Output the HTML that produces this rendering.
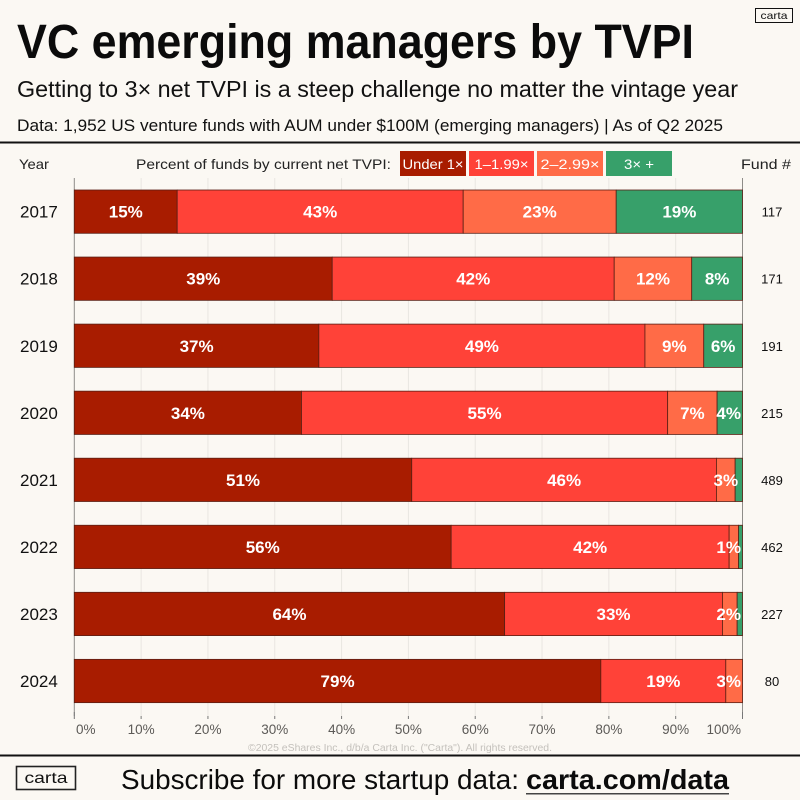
<!DOCTYPE html>
<html lang="en">
<head>
<meta charset="utf-8">
<title>VC emerging managers by TVPI</title>
<style>
html,body{margin:0;padding:0;background:#fbf8f3;}
svg{display:block;font-family:"Liberation Sans",sans-serif;}
</style>
</head>
<body>
<svg id="chart" xmlns="http://www.w3.org/2000/svg" width="800" height="800" viewBox="0 0 800 800">
  <rect x="0" y="0" width="800" height="800" fill="#fbf8f3"/>
  <text x="17" y="58" font-size="48" font-weight="700" fill="#0b0b0b" textLength="677" lengthAdjust="spacingAndGlyphs">VC emerging managers by TVPI</text>
  <text x="17" y="97" font-size="23" fill="#111" textLength="721" lengthAdjust="spacingAndGlyphs">Getting to 3× net TVPI is a steep challenge no matter the vintage year</text>
  <text x="17" y="131" font-size="16.5" fill="#111" textLength="706" lengthAdjust="spacingAndGlyphs">Data: 1,952 US venture funds with AUM under $100M (emerging managers) | As of Q2 2025</text>
  <g>
    <rect x="755.5" y="8.5" width="37" height="14" fill="none" stroke="#111" stroke-width="1"/>
    <text x="774" y="19" font-size="10.5" text-anchor="middle" fill="#111" textLength="27" lengthAdjust="spacingAndGlyphs">carta</text>
  </g>
  <rect x="0" y="141.5" width="800" height="2" fill="#111"/>

  <text x="19" y="169" font-size="14" fill="#222" textLength="30" lengthAdjust="spacingAndGlyphs">Year</text>
  <text x="136" y="169" font-size="14" fill="#222" textLength="255" lengthAdjust="spacingAndGlyphs">Percent of funds by current net TVPI:</text>
  <text x="741" y="169" font-size="14" fill="#222" textLength="50" lengthAdjust="spacingAndGlyphs">Fund #</text>

  <g>
    <rect x="400" y="151" width="66" height="25" fill="#a81c00"/>
    <text x="433" y="169" font-size="14" font-weight="400" text-anchor="middle" fill="#fff" textLength="61" lengthAdjust="spacingAndGlyphs">Under 1×</text>
  </g>
  <g>
    <rect x="469" y="151" width="65" height="25" fill="#ff4238"/>
    <text x="501.5" y="169" font-size="14" text-anchor="middle" fill="#fff" textLength="54" lengthAdjust="spacingAndGlyphs">1–1.99×</text>
  </g>
  <g>
    <rect x="537" y="151" width="66" height="25" fill="#ff6b47"/>
    <text x="570" y="169" font-size="14" text-anchor="middle" fill="#fff" textLength="59" lengthAdjust="spacingAndGlyphs">2–2.99×</text>
  </g>
  <g>
    <rect x="606" y="151" width="66" height="25" fill="#37a06a"/>
    <text x="639" y="169" font-size="14" text-anchor="middle" fill="#fff" textLength="30" lengthAdjust="spacingAndGlyphs">3× +</text>
  </g>

  <g id="grid"></g>
  <g id="bars"></g>
  <g id="axis"></g>

  <text x="400" y="751" font-size="10" text-anchor="middle" fill="#c4c1bc" textLength="304" lengthAdjust="spacingAndGlyphs">©2025 eShares Inc., d/b/a Carta Inc. ("Carta"). All rights reserved.</text>
  <rect x="0" y="754.5" width="800" height="2" fill="#111"/>
  <g>
    <rect x="16.5" y="766.5" width="59" height="23" fill="none" stroke="#222" stroke-width="1.6"/>
    <text x="46" y="783" font-size="16" text-anchor="middle" fill="#111" textLength="43" lengthAdjust="spacingAndGlyphs">carta</text>
  </g>
  <text x="121" y="789" font-size="28" fill="#0b0b0b" textLength="398" lengthAdjust="spacingAndGlyphs">Subscribe for more startup data:</text>
  <text x="526" y="789" font-size="28" font-weight="700" fill="#0b0b0b" textLength="203" lengthAdjust="spacingAndGlyphs">carta.com/data</text>
  <rect x="526" y="793" width="203" height="1.5" fill="#444"/>
</svg>
<script>
const years = ['2017','2018','2019','2020','2021','2022','2023','2024'];
const under1x = [15.4, 38.6, 36.6, 34.0, 50.5, 56.4, 64.4, 78.8];
const from1to2x = [42.8, 42.2, 48.8, 54.8, 45.6, 41.6, 32.6, 18.7];
const from2to3x = [22.9, 11.6, 8.8, 7.4, 2.8, 1.4, 2.2, 2.5];
const over3x = [18.9, 7.6, 5.8, 3.8, 1.1, 0.6, 0.8, 0];
const fundCounts = [117, 171, 191, 215, 489, 462, 227, 80];
const axisTicks = [0, 10, 20, 30, 40, 50, 60, 70, 80, 90, 100];

const seriesList = [under1x, from1to2x, from2to3x, over3x];
const seriesColors = ['#a81c00', '#ff4238', '#ff6b47', '#37a06a'];
const seriesNames = ['under-1x', '1-to-1-99x', '2-to-2-99x', '3x-plus'];

const NS = 'http://www.w3.org/2000/svg';
const plotLeft = 74.3, plotRight = 742.5, firstBarTop = 190, barPitch = 67.05, barHeight = 43.3;
function xScale(v) { return plotLeft + (plotRight - plotLeft) * v / 100; }
function yScale(i) { return firstBarTop + barPitch * i; }
function make(tag, attrs, parent) {
  const el = document.createElementNS(NS, tag);
  for (const k in attrs) el.setAttribute(k, attrs[k]);
  parent.appendChild(el);
  return el;
}

const gridG = document.getElementById('grid');
const barsG = document.getElementById('bars');
const axisG = document.getElementById('axis');

axisTicks.forEach(function (t) {
  const x = xScale(t);
  const edge = t === 0 || t === 100;
  const line = make('line', {x1: x, x2: x, y1: 178, y2: 716, stroke: edge ? '#8e8c88' : '#e9e6e1', 'stroke-width': 1}, gridG);
  
  
  const tick = make('line', {x1: x, x2: x, y1: edge ? 712 : 716, y2: 719, stroke: '#777', 'stroke-width': 1}, axisG);
  
  
  const label = make('text', {y: 734, 'font-size': 13.5, fill: '#5c5a57'}, axisG);
  label.textContent = t + '%';
  
  
  if (t === 0) { label.setAttribute('x', 76); }
  else if (t === 100) { label.setAttribute('x', 741); label.setAttribute('text-anchor', 'end'); }
  else { label.setAttribute('x', x); label.setAttribute('text-anchor', 'middle'); }
});

years.forEach(function (year, i) {
  const top = yScale(i);
  const mid = top + barHeight / 2;
  const yearLabel = make('text', {x: 20, y: mid + 6, 'font-size': 17, fill: '#111'}, barsG);
  yearLabel.textContent = year;
  
  

  const total = seriesList.reduce(function (s, arr) { return s + arr[i]; }, 0);
  let cum = 0;
  const labels = [];
  seriesList.forEach(function (arr, s) {
    const v = arr[i];
    if (v <= 0) return;
    const x0 = xScale(cum / total * 100);
    const x1 = xScale((cum + v) / total * 100);
    cum += v;
    const seg = make('rect', {x: x0, y: top, width: x1 - x0, height: barHeight, fill: seriesColors[s], stroke: '#5a1f14', 'stroke-width': 0.8}, barsG);
    
    
    if (v >= 1.2) labels.push({v: v, x0: x0, x1: x1, s: s});
  });
  labels.forEach(function (l) {
    const txt = make('text', {y: mid + 6, 'font-size': 17, 'font-weight': 700, fill: '#fff'}, barsG);
    txt.textContent = Math.round(l.v) + '%';
    
    
    const w = txt.getComputedTextLength();
    const c = Math.min((l.x0 + l.x1) / 2, 741 - w / 2);
    txt.setAttribute('x', c);
    txt.setAttribute('text-anchor', 'middle');
  });
  const fund = make('text', {x: 772, y: mid + 5, 'font-size': 13, 'text-anchor': 'middle', fill: '#111'}, barsG);
  fund.textContent = fundCounts[i];
  
  
});
</script>
</body>
</html>
